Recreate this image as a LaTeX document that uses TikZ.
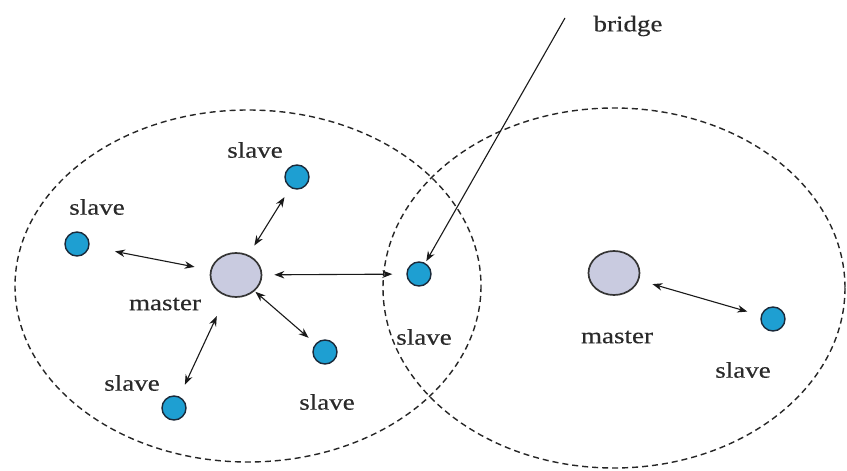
\documentclass[tikz,border=0pt]{standalone}
\usepackage{fontspec}
\setmainfont{Liberation Serif}[FakeStretch=1.2,FakeBold=0.3]
\usetikzlibrary{arrows.meta,shapes.geometric}
\definecolor{slaveblue}{HTML}{1E9FD2}
\definecolor{slaveedge}{HTML}{1B2A3A}
\definecolor{masterfill}{HTML}{C9CBE0}
\definecolor{masteredge}{HTML}{353535}
\definecolor{txt}{HTML}{2A2A2A}
\tikzset{
  slavenode/.style={circle, draw=slaveedge, fill=slaveblue, line width=1.4pt, minimum size=24pt, inner sep=0pt},
  masternode/.style={ellipse, draw=masteredge, fill=masterfill, line width=1.7pt, minimum width=51pt, minimum height=44pt, inner sep=0pt},
  lbl/.style={text=txt, inner sep=0pt, font=\fontsize{22.5}{26}\selectfont},
  area/.style={draw=black!85, dash pattern=on 6pt off 4pt, line width=1.4pt},
  link/.style={{Stealth[length=10pt,width=7.5pt]}-{Stealth[length=10pt,width=7.5pt]}, line width=1.1pt, black!90},
  pointer/.style={-{Stealth[length=10pt,width=7.5pt]}, line width=1.1pt, black!90}
}
\begin{document}
\begin{tikzpicture}[x=1pt,y=-1pt]
\useasboundingbox (0,0) rectangle (847,471);
\fill[white] (0,0) rectangle (847,471);
% piconets
\draw[area] (248,286) ellipse [x radius=233, y radius=176];
\draw[area] (614,288) ellipse [x radius=231, y radius=180];
% nodes
\node[masternode] (m1) at (236,275) {};
\node[masternode] (m2) at (614,273) {};
\node[slavenode] (sl) at (77,244) {};
\node[slavenode] (st) at (297,177) {};
\node[slavenode] (sr) at (325,352) {};
\node[slavenode] (sb) at (174,408) {};
\node[slavenode] (sbr) at (419,274) {};
\node[slavenode] (s2) at (773,319) {};
% labels
\node[lbl] (lt) at (255,150) {slave};
\node[lbl] (ll) at (97,207) {slave};
\node[lbl] (lm1) at (165,304) {master};
\node[lbl] (lb) at (132,383) {slave};
\node[lbl] (lr) at (327,402) {slave};
\node[lbl] (lbr) at (424,337) {slave};
\node[lbl] (lm2) at (617,337) {master};
\node[lbl] (l2) at (743,370) {slave};
\node[lbl] (lbridge) at (628,26) {bridge};
\coordinate (btop) at (565,18);
% connectors
\draw[link, shorten <=26pt, shorten >=16pt] (sl) -- (m1);
\draw[link, shorten <=11pt, shorten >=11pt] (st) -- (m1);
\draw[link, shorten <=14pt, shorten >=12pt] (sbr) -- (m1);
\draw[link, shorten <=9pt, shorten >=1pt] (sr) -- (m1);
\draw[link, shorten <=13pt, shorten >=22pt] (sb) -- (m1);
\draw[link, shorten <=14pt, shorten >=14pt] (m2) -- (s2);
\draw[pointer, shorten >=2pt] (btop) -- (sbr);
\end{tikzpicture}
\end{document}
